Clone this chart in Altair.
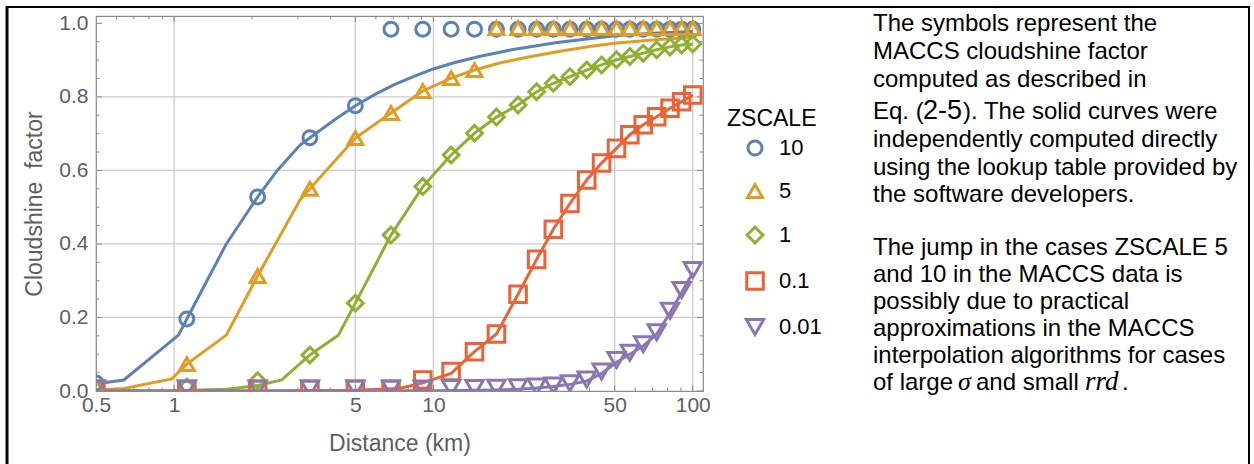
import altair as alt
import pandas as pd

# ---------------- data ----------------
ZS = ["10", "5", "1", "0.1", "0.01"]
COLORS = ["#5E81B5", "#E09C24", "#8FB032", "#EB6235", "#8778B3"]
SHAPES = ["circle", "triangle-up", "diamond", "square", "triangle-down"]
SIZES = [196, 300, 215, 160, 300]

# distances of the MACCS symbols (km)
dist = [0.5, 1.12, 2.1, 3.34, 5.0, 6.86, 9.1, 11.7, 14.4, 17.5, 21.2, 25.0,
        29.0, 33.6, 39.0, 44.5, 50.8, 57.2, 64.4, 72.6, 81.7, 90.6, 100.0]

# MACCS symbols (cloudshine factor)
m10 = [0.022, 0.196, 0.528, 0.689, 0.776, 0.984, 0.984, 0.984, 0.984, 0.984, 0.984, 0.984,
       0.984, 0.984, 0.984, 0.984, 0.984, 0.984, 0.984, 0.984, 0.984, 0.984, 0.984]
m5 = [0.012, 0.073, 0.313, 0.55, 0.688, 0.756, 0.816, 0.851, 0.873, 0.987, 0.987, 0.987,
      0.987, 0.987, 0.987, 0.987, 0.987, 0.987, 0.987, 0.987, 0.987, 0.987, 0.987]
m1 = [0.008, 0.011, 0.028, 0.098, 0.239, 0.424, 0.556, 0.642, 0.701, 0.745, 0.778, 0.814,
      0.837, 0.855, 0.873, 0.887, 0.901, 0.910, 0.919, 0.928, 0.936, 0.941, 0.944]
m01 = [0.005, 0.005, 0.005, 0.005, 0.005, 0.005, 0.03, 0.053, 0.107, 0.155, 0.263, 0.358,
       0.44, 0.51, 0.574, 0.62, 0.66, 0.697, 0.724, 0.746, 0.769, 0.787, 0.805]
m001 = [0.007, 0.007, 0.007, 0.007, 0.007, 0.007, 0.007, 0.008, 0.008, 0.009, 0.010, 0.012,
        0.015, 0.021, 0.031, 0.053, 0.084, 0.104, 0.127, 0.16, 0.218, 0.275, 0.329]

# independently computed curves
c10_x = [0.5, 0.64, 1.04, 1.12, 1.59, 2.1, 2.5, 3.06, 3.34, 4.2, 5.0, 6.0, 7.0, 8.5, 10.0,
         12.0, 15.0, 20.0, 30.0, 50.0, 70.0, 100.0]
c10_y = [0.02, 0.03, 0.152, 0.196, 0.40, 0.528, 0.60, 0.669, 0.689, 0.74, 0.776, 0.808,
         0.832, 0.857, 0.876, 0.893, 0.91, 0.928, 0.948, 0.966, 0.973, 0.978]
c5_x = [0.5, 0.64, 0.98, 1.12, 1.59, 2.1, 3.06, 3.34, 5.0, 6.86, 9.1, 11.7, 14.4, 18.0,
        23.0, 30.0, 40.0, 50.0, 70.0, 100.0]
c5_y = [0.003, 0.007, 0.033, 0.073, 0.152, 0.313, 0.52, 0.55, 0.688, 0.756, 0.816, 0.851,
        0.873, 0.892, 0.908, 0.923, 0.937, 0.946, 0.955, 0.962]
c1_x = [0.5, 1.0, 1.6, 2.1, 2.6, 3.34, 4.3, 5.0, 6.86, 9.1, 11.7, 14.4, 17.5, 21.2, 25.0,
        29.0, 33.6, 39.0, 44.5, 50.8, 57.2, 64.4, 72.6, 81.7, 90.6, 100.0]
c1_y = [0.0, 0.001, 0.005, 0.015, 0.03, 0.098, 0.152, 0.239, 0.424, 0.556, 0.642, 0.701,
        0.745, 0.778, 0.814, 0.837, 0.855, 0.873, 0.887, 0.901, 0.910, 0.919, 0.928,
        0.936, 0.941, 0.944]
c01_x = [0.5, 2.1, 5.0, 7.4, 9.1, 11.7, 14.4, 17.5, 21.2, 25.0, 29.0, 33.6, 39.0, 44.5,
         50.8, 57.2, 64.4, 72.6, 81.7, 90.6, 100.0]
c01_y = [0.0, 0.0, 0.002, 0.007, 0.022, 0.048, 0.107, 0.155, 0.263, 0.358, 0.44, 0.51,
         0.574, 0.62, 0.66, 0.697, 0.724, 0.746, 0.769, 0.787, 0.805]
c001_x = [0.5, 5.0, 10.0, 14.4, 17.5, 21.2, 25.0, 29.0, 33.6, 39.0, 44.5, 50.8, 57.2,
          64.4, 72.6, 81.7, 90.6, 100.0]
c001_y = [0.0, 0.0, 0.001, 0.002, 0.003, 0.005, 0.008, 0.012, 0.018, 0.027, 0.048, 0.078,
          0.1, 0.122, 0.155, 0.212, 0.268, 0.322]

# axis / frame tick values
x_labels = [0.5, 1, 5, 10, 50, 100]
x_major = [1, 5, 10, 50, 100]
x_minor = [0.6, 0.7, 0.8, 0.9, 2, 3, 4, 6, 7, 8, 9, 20, 30, 40, 60, 70, 80, 90]
y_labels = [0.0, 0.2, 0.4, 0.6, 0.8, 1.0]
y_grid = [0.2, 0.4, 0.6, 0.8]
y_minor = [0.05, 0.1, 0.15, 0.25, 0.3, 0.35, 0.45, 0.5, 0.55, 0.65, 0.7, 0.75, 0.85,
           0.9, 0.95]

# ---------------- tables ----------------
marks = pd.DataFrame(
    [(d, v, z) for z, vals in zip(ZS, [m10, m5, m1, m01, m001]) for d, v in zip(dist, vals)],
    columns=["d", "v", "zscale"])
curve_sets = [(c10_x, c10_y), (c5_x, c5_y), (c1_x, c1_y), (c01_x, c01_y), (c001_x, c001_y)]

W, H = 607, 375
PADL, PADT = 96, 16
FRAME = "#8a8a8a"
GRID = "#cbcbcb"
LABEL = "#5e5e5e"
FONT = "Liberation Sans"

xscale = alt.Scale(type="log", domain=[0.5, 109.5], nice=False)
yscale = alt.Scale(domain=[0, 1.02], nice=False, zero=False)
cscale = alt.Scale(domain=ZS, range=COLORS)

xaxis = alt.Axis(values=x_labels, format="~g", grid=False, ticks=False, domain=False,
                 labelFlush=False, labelOverlap=False, labelPadding=3,
                 labelFontSize=21, labelColor=LABEL, labelFont=FONT,
                 titleFont=FONT, titleFontSize=23, titleColor=LABEL,
                 titleFontWeight="normal", titleX=W / 2, titleY=52,
                 titleBaseline="middle")
yaxis = alt.Axis(values=y_labels, format=".1f", grid=False, ticks=False, domain=False,
                 labelOverlap=False, labelPadding=8, labelFontSize=21,
                 labelColor=LABEL, labelFont=FONT, titleFont=FONT,
                 titleFontSize=23, titleColor=LABEL, titleFontWeight="normal",
                 titleX=-62, titleY=H / 2, titleAngle=270,
                 titleBaseline="middle", titleAlign="center")

# grid lines (these layers carry the axes)
vgrid = alt.Chart(pd.DataFrame({"v": x_major})).mark_rule(color=GRID, strokeWidth=1.3).encode(
    x=alt.X("v:Q", scale=xscale, title="Distance (km)", axis=xaxis))
hgrid = alt.Chart(pd.DataFrame({"v": y_grid})).mark_rule(color=GRID, strokeWidth=1.3).encode(
    y=alt.Y("v:Q", scale=yscale, title="Cloudshine\u00a0 factor", axis=yaxis))


def xticks(vals, length):
    df = pd.DataFrame({"v": vals})
    bot = alt.Chart(df).mark_rule(color=FRAME, strokeWidth=1).encode(
        x=alt.X("v:Q", scale=xscale), y=alt.value(H), y2=alt.value(H - length))
    top = alt.Chart(df).mark_rule(color=FRAME, strokeWidth=1).encode(
        x=alt.X("v:Q", scale=xscale), y=alt.value(0), y2=alt.value(length))
    return [bot, top]


def yticks(vals, length):
    df = pd.DataFrame({"v": vals})
    left = alt.Chart(df).mark_rule(color=FRAME, strokeWidth=1).encode(
        y=alt.Y("v:Q", scale=yscale), x=alt.value(0), x2=alt.value(length))
    right = alt.Chart(df).mark_rule(color=FRAME, strokeWidth=1).encode(
        y=alt.Y("v:Q", scale=yscale), x=alt.value(W), x2=alt.value(W - length))
    return [left, right]


tick_layers = xticks(x_major, 6) + xticks(x_minor, 3.5) + yticks(y_labels, 6) + yticks(y_minor, 3.5)

# one curve layer per ZSCALE, each with its own colour
line_layers = []
for z, col, (xs, ys) in zip(ZS, COLORS, curve_sets):
    df = pd.DataFrame({"d": xs, "v": ys})
    line_layers.append(alt.Chart(df).mark_line(strokeWidth=3, clip=True, color=col).encode(
        x=alt.X("d:Q", scale=xscale), y=alt.Y("v:Q", scale=yscale)))

LEG = alt.Legend(orient="none", legendX=631, legendY=92)
points = alt.Chart(marks).mark_point(filled=False, strokeWidth=3, clip=True, opacity=1).encode(
    x=alt.X("d:Q", scale=xscale),
    y=alt.Y("v:Q", scale=yscale),
    color=alt.Color("zscale:N", scale=cscale, title="ZSCALE", legend=LEG),
    shape=alt.Shape("zscale:N", scale=alt.Scale(domain=ZS, range=SHAPES), title="ZSCALE",
                    legend=LEG),
    size=alt.Size("zscale:N", scale=alt.Scale(domain=ZS, range=SIZES), title="ZSCALE",
                  legend=LEG),
)

# ---------------- right-hand text and page borders ----------------
one = pd.DataFrame({"t": ["x"]})


def text(s, px, py, size=24, font=FONT, style="normal"):
    return alt.Chart(pd.DataFrame({"t": [s]})).mark_text(
        align="left", baseline="alphabetic", font=font, fontSize=size, fontStyle=style,
        color="black").encode(text="t:N", x=alt.value(px - PADL), y=alt.value(py - PADT))


TX = 873
para1 = ["The symbols represent the", "MACCS cloudshine factor", "computed as described in"]
para1b = ["independently computed directly", "using the lookup table provided by",
          "the software developers."]
para2 = ["The jump in the cases ZSCALE 5", "and 10 in the MACCS data is",
         "possibly due to practical", "approximations in the MACCS",
         "interpolation algorithms for cases"]
texts = []
for s, yb in zip(para1, [31, 59, 87]):
    texts.append(text(s, TX, yb))
texts += [text("Eq. (", TX, 119), text("2-5", TX + 50, 119, size=27),
          text("). The solid curves were", TX + 90, 119)]
for s, yb in zip(para1b, [147, 175, 202]):
    texts.append(text(s, TX, yb))
for s, yb in zip(para2, [255, 282, 309, 336, 363]):
    texts.append(text(s, TX, yb))
texts += [text("of large", TX, 390),
          text("\u03c3", 958, 390, size=26, font="Liberation Serif", style="italic"),
          text("and small", 976, 390),
          text("rrd", 1085, 390, size=27, font="Liberation Serif", style="italic"),
          text(".", 1122, 390)]


def border(x1, y1, x2, y2, w):
    return alt.Chart(one).mark_rule(color="black", strokeWidth=w).encode(
        x=alt.value(x1 - PADL), x2=alt.value(x2 - PADL),
        y=alt.value(y1 - PADT), y2=alt.value(y2 - PADT))


borders = [border(7, 7, 1249, 7, 2), border(7, 6, 7, 464, 3), border(1249, 6, 1249, 464, 2)]

chart = alt.layer(vgrid, hgrid, *tick_layers, *line_layers, points, *texts, *borders).properties(
    width=W, height=H,
    background="white",
    autosize=alt.AutoSizeParams(type="none"),
    padding={"left": PADL, "top": PADT, "right": 1254 - PADL - W, "bottom": 464 - PADT - H},
).configure_view(stroke=FRAME, strokeWidth=1.2).configure_legend(
    padding=0, titleFont=FONT, titleFontSize=23, titleColor="black", titleFontWeight="normal",
    titlePadding=6, labelFont=FONT, labelFontSize=22, labelColor="black",
    symbolStrokeWidth=3, symbolOffset=17, labelOffset=13, rowPadding=17,
)

chart.save("out.html", embed_options={"renderer": "svg", "actions": False})
